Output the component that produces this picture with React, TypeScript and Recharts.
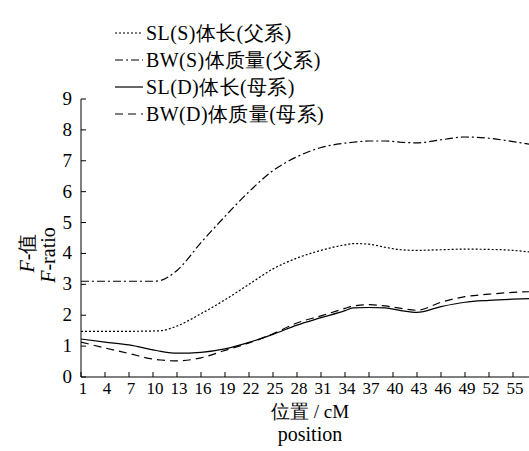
import React from "react";
import { LineChart, Line, XAxis, YAxis } from "recharts";

const positions = [1, 4, 7, 10, 11, 13, 16, 19, 22, 25, 28, 31, 34, 35, 37, 39, 41, 43, 46, 49, 52, 55, 57];
const slS = [1.48, 1.48, 1.48, 1.49, 1.5, 1.65, 2.05, 2.5, 3.0, 3.5, 3.85, 4.1, 4.28, 4.32, 4.3, 4.2, 4.12, 4.1, 4.12, 4.14, 4.13, 4.1, 4.05];
const bwS = [3.1, 3.1, 3.1, 3.1, 3.13, 3.45, 4.35, 5.2, 6.0, 6.68, 7.13, 7.43, 7.57, 7.6, 7.64, 7.64, 7.6, 7.58, 7.68, 7.77, 7.73, 7.62, 7.54];
const slD = [1.23, 1.13, 1.04, 0.88, 0.83, 0.77, 0.8, 0.91, 1.12, 1.38, 1.68, 1.92, 2.15, 2.24, 2.25, 2.24, 2.15, 2.09, 2.28, 2.42, 2.48, 2.52, 2.54];
const bwD = [1.13, 0.94, 0.76, 0.58, 0.55, 0.52, 0.62, 0.86, 1.1, 1.4, 1.75, 1.98, 2.22, 2.3, 2.34, 2.3, 2.22, 2.16, 2.42, 2.6, 2.68, 2.74, 2.76];

const xTicks = [1, 4, 7, 10, 13, 16, 19, 22, 25, 28, 31, 34, 37, 40, 43, 46, 49, 52, 55];
const yTicks = [0, 1, 2, 3, 4, 5, 6, 7, 8, 9];

const seriesNames = ["SL(S)体长(父系)", "BW(S)体质量(父系)", "SL(D)体长(母系)", "BW(D)体质量(母系)"];
const seriesKeys = ["slS", "bwS", "slD", "bwD"];
const dashes = ["2 2", "8 3 2 3", "", "8 5"];

const xTitle = "位置 / cM";
const xTitle2 = "position";
const yTitle1 = "-值";
const yTitle2 = "-ratio";

const data = positions.map((p, i) => ({
  pos: p,
  slS: slS[i],
  bwS: bwS[i],
  slD: slD[i],
  bwD: bwD[i],
}));

const FONT = "'Liberation Serif', 'Times New Roman', serif";

const XTick = (props: any) => {
  const { x, y, payload } = props;
  return (
    <g>
      <line x1={x} x2={x} y1={y} y2={y - 5} stroke="#000" strokeWidth={1} />
      <text x={x + 2} y={y + 17} textAnchor="middle" fontSize={17} fontFamily={FONT} fill="#000">
        {payload.value}
      </text>
    </g>
  );
};

const YTick = (props: any) => {
  const { x, y, payload } = props;
  return (
    <g>
      <line x1={x} x2={x + 5} y1={y} y2={y} stroke="#000" strokeWidth={1} />
      <text x={x - 9} y={y + 6} textAnchor="end" fontSize={19} fontFamily={FONT} fill="#000">
        {payload.value}
      </text>
    </g>
  );
};

export default function App() {
  return (
    <div style={{ position: "absolute", left: 0, top: 0, width: 529, height: 451, background: "#fff" }}>
      <LineChart
        width={529}
        height={451}
        data={data}
        margin={{ top: 99, right: 0, left: 0, bottom: 0 }}
      >
        <XAxis
          dataKey="pos"
          type="number"
          domain={[1, 57]}
          ticks={xTicks}
          interval={0}
          height={74}
          tickSize={0}
          tickMargin={0}
          tickLine={false}
          tick={<XTick />}
          axisLine={{ stroke: "#000", strokeWidth: 1 }}
          allowDataOverflow
        />
        <YAxis
          type="number"
          domain={[0, 9]}
          ticks={yTicks}
          interval={0}
          width={81}
          tickSize={0}
          tickMargin={0}
          tickLine={false}
          tick={<YTick />}
          axisLine={{ stroke: "#000", strokeWidth: 1 }}
        />
        {seriesKeys.map((k, i) => (
          <Line
            key={k}
            dataKey={k}
            name={seriesNames[i]}
            type="monotone"
            stroke="#000"
            strokeWidth={1.2}
            strokeDasharray={dashes[i] || undefined}
            dot={false}
            isAnimationActive={false}
          />
        ))}
      </LineChart>
      <svg
        width={529}
        height={451}
        style={{ position: "absolute", left: 0, top: 0, pointerEvents: "none" }}
      >
        {seriesNames.map((n, i) => {
          const y = 33 + i * 27;
          return (
            <g key={n}>
              <line x1={115} x2={143} y1={y} y2={y} stroke="#000" strokeWidth={1.2} strokeDasharray={dashes[i] || undefined} />
              <text x={146} y={y + 7} fontSize={20} fontFamily={FONT} fill="#000" letterSpacing={0.4}>
                {n}
              </text>
            </g>
          );
        })}
        <text x={310} y={418} textAnchor="middle" fontSize={19} fontFamily={FONT} fill="#000">
          {xTitle}
        </text>
        <text x={310} y={441} textAnchor="middle" fontSize={20} fontFamily={FONT} fill="#000">
          {xTitle2}
        </text>
        <text
          transform="translate(34,253) rotate(-90)"
          textAnchor="middle"
          fontSize={20}
          fontFamily={FONT}
          fill="#000"
        >
          <tspan fontStyle="italic">F</tspan>
          {yTitle1}
        </text>
        <text
          transform="translate(55,255) rotate(-90)"
          textAnchor="middle"
          fontSize={20}
          fontFamily={FONT}
          fill="#000"
        >
          <tspan fontStyle="italic">F</tspan>
          {yTitle2}
        </text>
      </svg>
    </div>
  );
}
